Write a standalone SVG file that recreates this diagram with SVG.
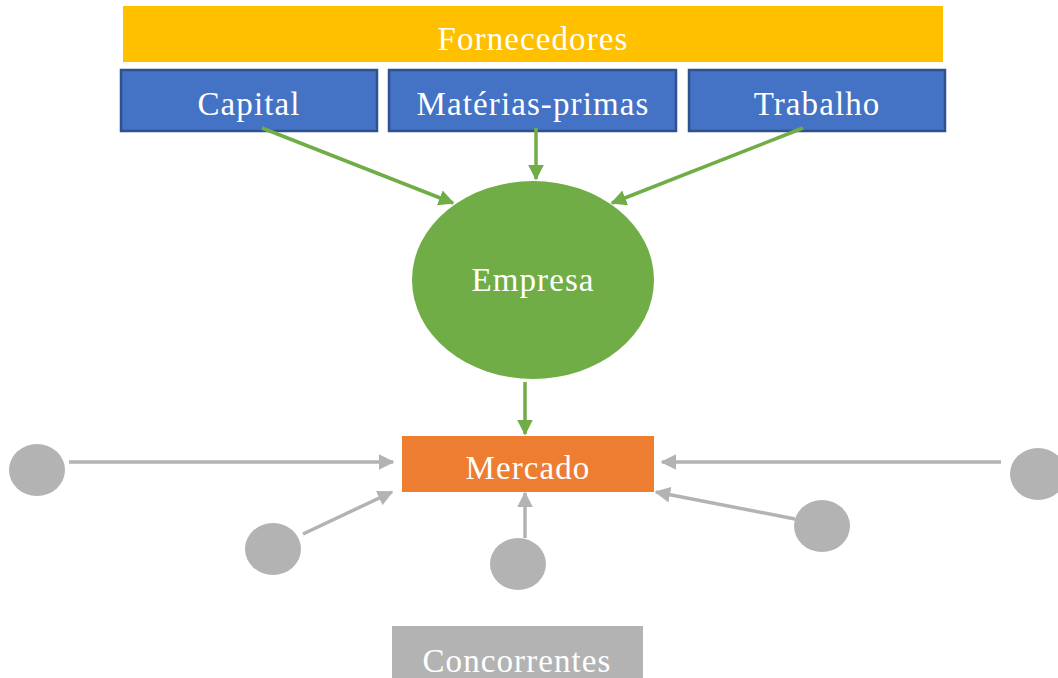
<svg xmlns="http://www.w3.org/2000/svg" width="1058" height="678" viewBox="0 0 1058 678">
  <defs>
    <marker id="ahGreen" viewBox="0 0 10 10" refX="9" refY="5" markerWidth="4.5" markerHeight="4.5" orient="auto" markerUnits="strokeWidth">
      <path d="M0,0 L10,5 L0,10 Z" fill="#70AD47"/>
    </marker>
    <marker id="ahGray" viewBox="0 0 10 10" refX="9" refY="5" markerWidth="4.5" markerHeight="4.5" orient="auto" markerUnits="strokeWidth">
      <path d="M0,0 L10,5 L0,10 Z" fill="#B3B3B3"/>
    </marker>
    <style>
      .lbl { font-family: "Liberation Serif", "DejaVu Serif", serif; font-size: 33px; letter-spacing: 1.1px; fill: #FFFFFF; text-anchor: middle; }
      .blue { fill: #4472C4; stroke: #2F528F; stroke-width: 2.5; }
      .dot { fill: #B3B3B3; }
      .g { stroke: #70AD47; stroke-width: 3.5; fill: none; marker-end: url(#ahGreen); }
      .k { stroke: #B3B3B3; stroke-width: 3.5; fill: none; marker-end: url(#ahGray); }
    </style>
  </defs>
  <rect width="1058" height="678" fill="#FFFFFF"/>

  <g id="fornecedores">
    <rect x="123" y="6" width="820" height="56" fill="#FFC000"/>
    <text class="lbl" x="533" y="50">Fornecedores</text>
  </g>
  <g id="capital">
    <rect class="blue" x="121" y="70" width="256" height="61"/>
    <text class="lbl" x="249" y="115">Capital</text>
  </g>
  <g id="materias-primas">
    <rect class="blue" x="389" y="70" width="287" height="61"/>
    <text class="lbl" x="533" y="115">Matérias-primas</text>
  </g>
  <g id="trabalho">
    <rect class="blue" x="689" y="70" width="256" height="61"/>
    <text class="lbl" x="817" y="115">Trabalho</text>
  </g>
  <g id="empresa">
    <ellipse cx="533" cy="280" rx="121" ry="99" fill="#70AD47"/>
    <text class="lbl" x="533" y="291">Empresa</text>
  </g>
  <g id="mercado">
    <rect x="402" y="436" width="252" height="56" fill="#ED7D31"/>
    <text class="lbl" x="528" y="479">Mercado</text>
  </g>
  <g id="concorrente-1"><ellipse class="dot" cx="37" cy="470" rx="28" ry="26"/></g>
  <g id="concorrente-2"><ellipse class="dot" cx="273" cy="549" rx="28" ry="26"/></g>
  <g id="concorrente-3"><ellipse class="dot" cx="518" cy="564" rx="28" ry="26"/></g>
  <g id="concorrente-4"><ellipse class="dot" cx="822" cy="526" rx="28" ry="26"/></g>
  <g id="concorrente-5"><ellipse class="dot" cx="1038" cy="474" rx="28" ry="26"/></g>
  <g id="concorrentes">
    <rect x="392" y="626" width="251" height="60" fill="#B3B3B3"/>
    <text class="lbl" x="517" y="672">Concorrentes</text>
  </g>

  <g id="connectors">
    <line class="g" x1="262" y1="128" x2="453" y2="203"/>
    <line class="g" x1="536" y1="128" x2="536" y2="179"/>
    <line class="g" x1="803" y1="128" x2="612" y2="203"/>
    <line class="g" x1="525" y1="382" x2="525" y2="434"/>
    <line class="k" x1="69" y1="462" x2="393" y2="462"/>
    <line class="k" x1="303" y1="534" x2="392" y2="492"/>
    <line class="k" x1="525" y1="538" x2="525" y2="493"/>
    <line class="k" x1="795" y1="519" x2="656" y2="492"/>
    <line class="k" x1="1001" y1="462" x2="662" y2="462"/>
  </g>
</svg>
